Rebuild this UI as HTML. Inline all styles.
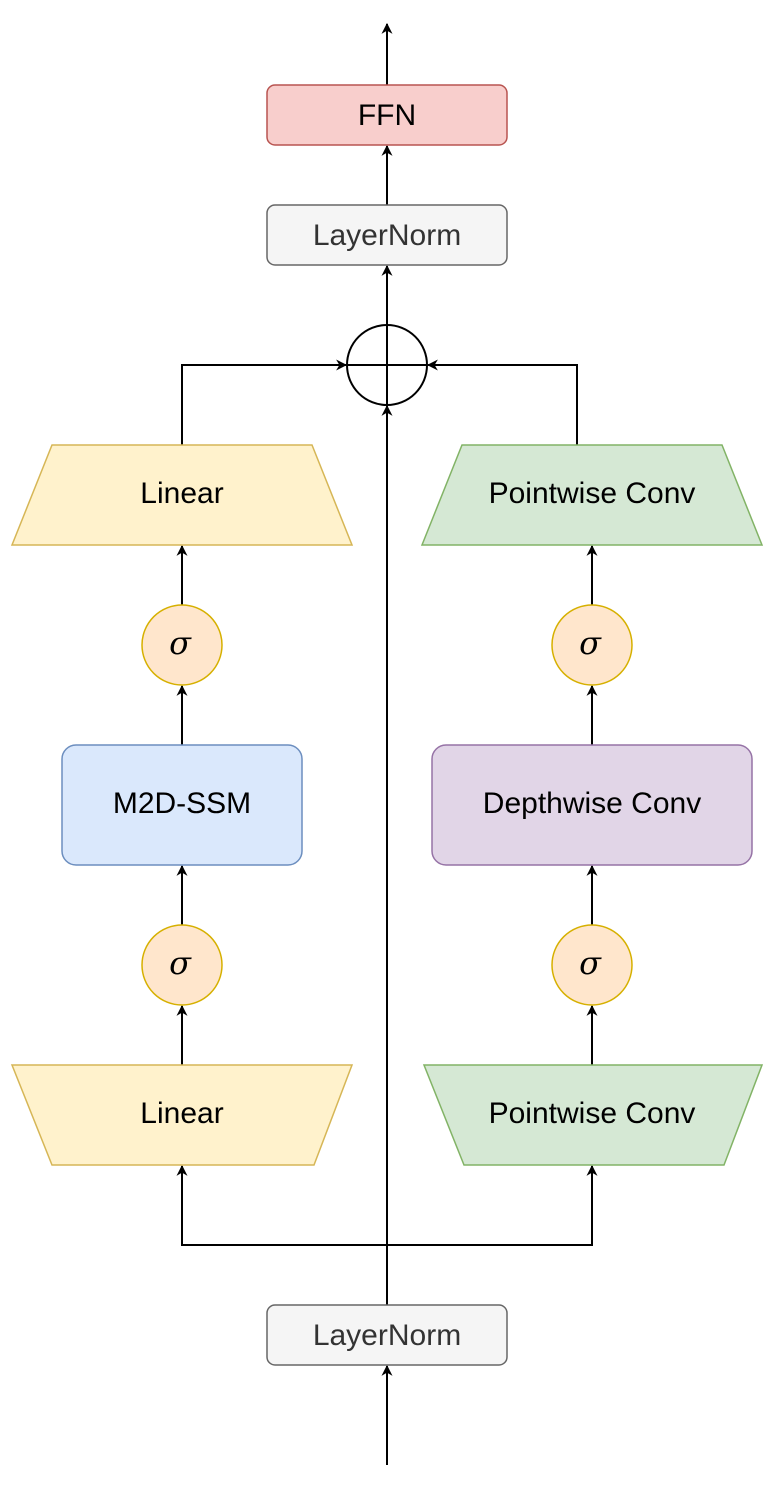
<!DOCTYPE html>
<html><head><meta charset="utf-8"><style>html,body{margin:0;padding:0;background:#fff}svg{display:block}</style></head>
<body>
<svg width="772" height="1492" viewBox="0 0 772 1492" xmlns="http://www.w3.org/2000/svg" font-family="Liberation Sans, Helvetica, Arial, sans-serif">
<defs>
<marker id="a" viewBox="0 0 10 10" refX="9" refY="5" markerWidth="11" markerHeight="11" markerUnits="userSpaceOnUse" orient="auto">
<path d="M0,0 L10,5 L0,10 L3,5 Z" fill="#000"/>
</marker>
</defs>
<g stroke="#000" stroke-width="2" fill="none" marker-end="url(#a)">
<line x1="387" y1="85" x2="387" y2="24"/>
<line x1="387" y1="205" x2="387" y2="146"/>
<line x1="387" y1="325" x2="387" y2="266"/>
<polyline points="182,445 182,365 346,365"/>
<polyline points="577,445 577,365 428,365"/>
<line x1="387" y1="1305" x2="387" y2="406"/>
<line x1="182" y1="605" x2="182" y2="546"/>
<line x1="182" y1="745" x2="182" y2="686"/>
<line x1="182" y1="925" x2="182" y2="866"/>
<line x1="182" y1="1065" x2="182" y2="1006"/>
<line x1="592" y1="605" x2="592" y2="546"/>
<line x1="592" y1="745" x2="592" y2="686"/>
<line x1="592" y1="925" x2="592" y2="866"/>
<line x1="592" y1="1065" x2="592" y2="1006"/>
<polyline points="387,1245 182,1245 182,1166"/>
<polyline points="387,1245 592,1245 592,1166"/>
<line x1="387" y1="1465" x2="387" y2="1366"/>
</g>
<rect x="267" y="85" width="240" height="60" rx="8" fill="#f8cecc" stroke="#b85450" stroke-width="1.5"/>
<rect x="267" y="205" width="240" height="60" rx="8" fill="#f5f5f5" stroke="#666" stroke-width="1.5"/>
<rect x="267" y="1305" width="240" height="60" rx="8" fill="#f5f5f5" stroke="#666" stroke-width="1.5"/>
<circle cx="387" cy="365" r="40" fill="none" stroke="#000" stroke-width="2"/>
<line x1="347" y1="365" x2="427" y2="365" stroke="#000" stroke-width="2"/>
<line x1="387" y1="325" x2="387" y2="405" stroke="#000" stroke-width="2"/>
<polygon points="52,445 312,445 352,545 12,545" fill="#fff2cc" stroke="#d6b656" stroke-width="1.5"/>
<polygon points="462,445 722,445 762,545 422,545" fill="#d5e8d4" stroke="#82b366" stroke-width="1.5"/>
<polygon points="12,1065 352,1065 314,1165 52,1165" fill="#fff2cc" stroke="#d6b656" stroke-width="1.5"/>
<polygon points="424,1065 762,1065 724,1165 464,1165" fill="#d5e8d4" stroke="#82b366" stroke-width="1.5"/>
<rect x="62" y="745" width="240" height="120" rx="14" fill="#dae8fc" stroke="#6c8ebf" stroke-width="1.5"/>
<rect x="432" y="745" width="320" height="120" rx="14" fill="#e1d5e7" stroke="#9673a6" stroke-width="1.5"/>
<g fill="#ffe6cc" stroke="#d6b000" stroke-width="1.5">
<circle cx="182" cy="645" r="40"/><circle cx="592" cy="645" r="40"/>
<circle cx="182" cy="965" r="40"/><circle cx="592" cy="965" r="40"/>
</g>
<g font-size="30" text-anchor="middle" fill="#000">
<text x="387" y="125">FFN</text>
<text x="387" y="245" fill="#333">LayerNorm</text>
<text x="387" y="1345" fill="#333">LayerNorm</text>
<text x="182" y="503">Linear</text>
<text x="592" y="503">Pointwise Conv</text>
<text x="182" y="1123">Linear</text>
<text x="592" y="1123">Pointwise Conv</text>
<text x="182" y="813">M2D-SSM</text>
<text x="592" y="813">Depthwise Conv</text>
<g font-family="DejaVu Serif, serif" font-style="italic" font-size="32">
<text x="180" y="654">σ</text><text x="590" y="654">σ</text>
<text x="180" y="974">σ</text><text x="590" y="974">σ</text>
</g>
</g>
</svg>
</body></html>
